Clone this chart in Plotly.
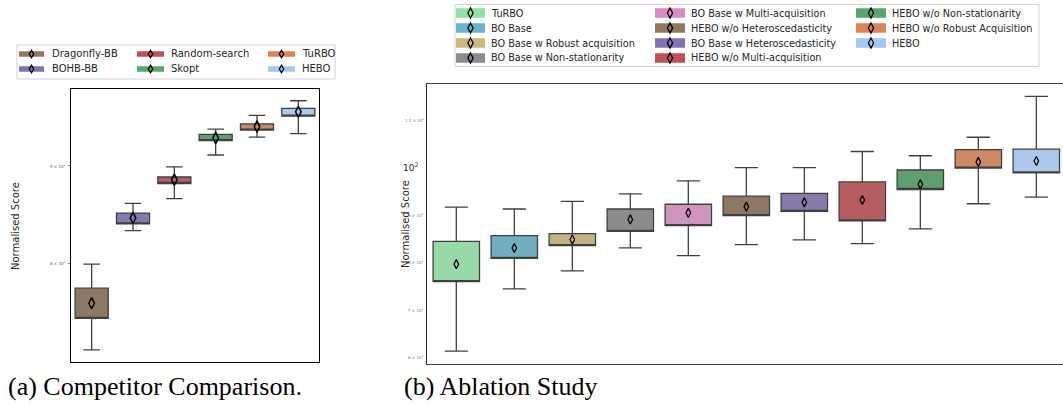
import colorsys
import math
import plotly.graph_objects as go

W, H = 1063, 406

# ---- (a) Competitor comparison -------------------------------------------
comp_names = ["Dragonfly-BB", "BOHB-BB", "Random-search", "Skopt", "TuRBO", "HEBO"]
comp_colors = ["#937860", "#8172b3", "#c44e52", "#55a868", "#dd8452", "#a1c9f4"]
comp_low = [72.0, 83.2, 86.5, 91.2, 93.2, 93.6]
comp_q1 = [74.8, 83.9, 88.1, 92.8, 94.0, 95.6]
comp_q3 = [77.6, 85.0, 88.8, 93.5, 94.7, 96.5]
comp_high = [79.9, 86.0, 89.9, 94.1, 95.7, 97.4]
comp_mean = [76.2, 84.5, 88.5, 93.1, 94.4, 96.1]
comp_ticks = [80, 90]
comp_ticktext = ["8 × 10<sup>1</sup>", "9 × 10<sup>1</sup>"]

# ---- (b) Ablation study ----------------------------------------------------
abl_names = [
    "TuRBO", "BO Base", "BO Base w Robust acquisition", "BO Base w Non-stationarity",
    "BO Base w Multi-acquisition", "HEBO w/o Heteroscedasticity",
    "BO Base w Heteroscedasticity", "HEBO w/o Multi-acquisition",
    "HEBO w/o Non-stationarity", "HEBO w/o Robust Acquisition", "HEBO",
]
abl_colors = ["#8de5a1", "#64b5cd", "#ccb974", "#8c8c8c", "#da8bc3", "#937860",
              "#8172b3", "#c44e52", "#55a868", "#dd8452", "#a1c9f4"]
abl_low = [61.3, 74.4, 78.2, 83.0, 81.4, 83.7, 84.7, 83.9, 87.0, 92.3, 93.7]
abl_q1 = [75.9, 80.8, 83.5, 86.5, 87.7, 89.8, 90.7, 88.7, 95.3, 99.8, 98.8]
abl_q3 = [84.4, 85.6, 86.0, 91.2, 92.2, 93.9, 94.5, 96.9, 99.4, 103.7, 103.8]
abl_high = [91.6, 91.2, 92.8, 94.4, 97.1, 99.9, 99.9, 103.3, 102.4, 106.3, 114.9]
abl_mean = [79.6, 83.0, 84.8, 89.0, 90.4, 91.7, 92.6, 93.1, 96.4, 101.1, 101.3]
abl_ticks = [60, 70, 80, 90, 100, 110]
abl_ticktext = ["6 × 10<sup>1</sup>", "7 × 10<sup>1</sup>", "8 × 10<sup>1</sup>",
                "9 × 10<sup>1</sup>", "10<sup>2</sup>", "1.1 × 10<sup>2</sup>"]

captions = ["(a) Competitor Comparison.", "(b) Ablation Study"]

EDGE = "#404040"
TEXT = "#262626"


def desaturate(hex_color, prop=0.75):
    r, g, b = (int(hex_color[i:i + 2], 16) / 255 for i in (1, 3, 5))
    h, l, s = colorsys.rgb_to_hls(r, g, b)
    r, g, b = colorsys.hls_to_rgb(h, l, s * prop)
    return "#{:02x}{:02x}{:02x}".format(round(r * 255), round(g * 255), round(b * 255))


def px(x):
    return x / W


def py(y):
    return 1 - y / H


fig = go.Figure()


def add_boxes(names, colors, low, q1, q3, high, mean, xa, ya, msize, mwidth):
    for i, name in enumerate(names):
        fig.add_trace(go.Box(
            x=[i], q1=[q1[i]], median=[q1[i]], q3=[q3[i]],
            lowerfence=[low[i]], upperfence=[high[i]],
            width=0.8, whiskerwidth=0.5, boxpoints=False,
            fillcolor=desaturate(colors[i]), line=dict(color=EDGE, width=1.3),
            name=name, showlegend=False, xaxis=xa, yaxis=ya, hoverinfo="skip",
        ))
    fig.add_trace(go.Scatter(
        x=list(range(len(names))), y=mean, mode="markers",
        marker=dict(symbol="diamond-tall-open", size=msize, color="black",
                    line=dict(color="black", width=mwidth)),
        showlegend=False, xaxis=xa, yaxis=ya, hoverinfo="skip",
    ))


add_boxes(comp_names, comp_colors, comp_low, comp_q1, comp_q3, comp_high, comp_mean,
          "x", "y", 8, 1.5)
add_boxes(abl_names, abl_colors, abl_low, abl_q1, abl_q3, abl_high, abl_mean,
          "x2", "y2", 6.5, 1.3)

fig.update_layout(
    width=W, height=H, margin=dict(l=0, r=0, t=0, b=0),
    paper_bgcolor="white", plot_bgcolor="rgba(0,0,0,0)",
    boxmode="overlay", showlegend=False,
    font=dict(family="DejaVu Sans", color=TEXT),
    xaxis=dict(domain=[px(71), px(319)], range=[-0.5, 5.5], showticklabels=False,
               ticks="", showgrid=False, zeroline=False, showline=True, mirror=True,
               linecolor="black", linewidth=1.4, anchor="y"),
    yaxis=dict(domain=[py(362), py(89)], type="log",
               range=[math.log10(70.95), math.log10(98.8)], tickvals=comp_ticks,
               showticklabels=False, ticks="outside", ticklen=2, tickcolor="#777",
               showgrid=False, zeroline=False, showline=True, mirror=True,
               linecolor="black", linewidth=1.4, anchor="x"),
    xaxis2=dict(domain=[px(427.3), 1.0], range=[-0.5, 10.46], showticklabels=False,
                ticks="", showgrid=False, zeroline=False, showline=True, mirror=True,
                linecolor="#444", linewidth=1.4, anchor="y2"),
    yaxis2=dict(domain=[py(363.7), py(84)], range=[58.65, 117.5], tickvals=abl_ticks,
                showticklabels=False, ticks="", showgrid=False, zeroline=False,
                showline=True, mirror=False, linecolor="#222", linewidth=1.4,
                anchor="x2"),
)

annotations = []
shapes = []

# tick labels
for v, t in zip(comp_ticks, comp_ticktext):
    annotations.append(dict(x=px(68), xref="paper", y=math.log10(v), yref="y",
                            text=t, showarrow=False, xanchor="right", yanchor="middle",
                            font=dict(size=4, color="#555")))
for v, t in zip(abl_ticks, abl_ticktext):
    big = v == 100
    annotations.append(dict(x=px(420 if big else 426), xref="paper", y=v, yref="y2",
                            text=t, showarrow=False, xanchor="right", yanchor="middle",
                            font=dict(size=9 if big else 4,
                                      color=TEXT if big else "#777")))

# axis titles
for x, y in [(15, 226), (405, 224)]:
    annotations.append(dict(x=px(x), y=py(y), xref="paper", yref="paper",
                            text="Normalised Score", textangle=-90, showarrow=False,
                            xanchor="center", yanchor="middle",
                            font=dict(size=10, color=TEXT)))


def diamond_path(cx, cy, hw, hh):
    pts = [(cx, cy - hh), (cx + hw, cy), (cx, cy + hh), (cx - hw, cy)]
    return "M " + " L ".join(f"{px(a):.5f},{py(b):.5f}" for a, b in pts) + " Z"


def draw_legend(names, colors, box, col_patch, col_text, rows, patch_h, dia, fsize):
    x0, y0, x1, y1 = box
    shapes.append(dict(type="rect", xref="paper", yref="paper",
                       x0=px(x0), x1=px(x1), y0=py(y1), y1=py(y0),
                       line=dict(color="#d2d2d2", width=1), fillcolor="white",
                       layer="below"))
    nrows = len(rows)
    for i, name in enumerate(names):
        c, r = divmod(i, nrows)
        a, b = col_patch[c]
        yc = rows[r]
        shapes.append(dict(type="rect", xref="paper", yref="paper",
                           x0=px(a), x1=px(b), y0=py(yc + patch_h / 2),
                           y1=py(yc - patch_h / 2), line=dict(width=0),
                           fillcolor=colors[i]))
        shapes.append(dict(type="path", xref="paper", yref="paper",
                           path=diamond_path((a + b) / 2, yc, dia[0], dia[1]),
                           line=dict(color="black", width=1.3)))
        annotations.append(dict(x=px(col_text[c]), y=py(yc), xref="paper", yref="paper",
                                text=name, showarrow=False, xanchor="left",
                                yanchor="middle", font=dict(size=fsize, color=TEXT)))


draw_legend(comp_names, comp_colors, (17, 45, 335, 79),
            [(19, 44), (137, 164), (268, 295)], [50, 169, 300], [54, 69],
            5.5, (2.2, 3.8), 10)
draw_legend(abl_names, abl_colors, (455, 4.5, 1039, 66.5),
            [(456, 485), (655, 685), (856, 886)], [489, 689, 890], [13, 28, 43, 58],
            9.5, (2.6, 5), 9.7)

# captions
for x, t in zip([6, 402], captions):
    annotations.append(dict(x=px(x), y=py(386), xref="paper", yref="paper", text=t,
                            showarrow=False, xanchor="left", yanchor="middle",
                            font=dict(family="Liberation Serif", size=26, color="black")))

fig.update_layout(annotations=annotations, shapes=shapes)
fig.write_html("out.html")
